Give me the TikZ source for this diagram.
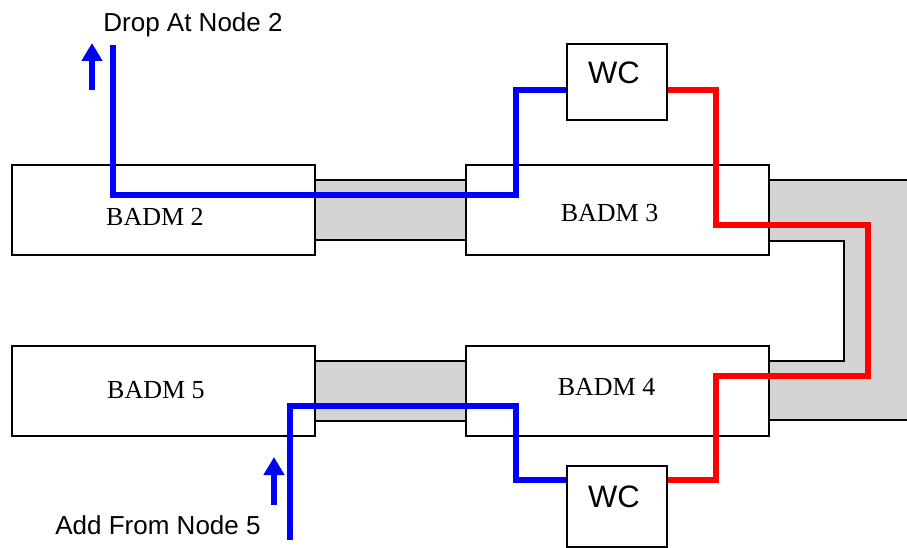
\documentclass[tikz,border=0pt]{standalone}
\usepackage{fontspec}
\setmainfont{Liberation Serif}
\newfontfamily\sansfam{Liberation Sans}
\usetikzlibrary{arrows.meta}
\begin{document}
\begin{tikzpicture}[x=1pt,y=1pt]
\tikzstyle{every node}+=[inner sep=0pt]
\tikzstyle{badm}=[draw=black,line width=2pt,fill=white,minimum width=303pt,minimum height=90pt]
\tikzstyle{wcbox}=[draw=black,line width=2pt,fill=white,minimum width=100pt,minimum height=76pt]
\tikzstyle{badmtxt}=[font=\fontsize{26}{30}\selectfont]
\tikzstyle{wctxt}=[font=\sansfam\fontsize{31}{36}\selectfont]
\tikzstyle{note}=[font=\sansfam\fontsize{26}{30}\selectfont,anchor=base]
\tikzstyle{link}=[draw=black,line width=2pt,fill=black!17]
\tikzstyle{bluepath}=[blue,line width=5.5pt]
\tikzstyle{redpath}=[red,line width=5.5pt]
\tikzstyle{flow}=[blue,line width=5.5pt,-{Triangle[width=20pt,length=18pt]}]
\useasboundingbox (0,0) rectangle (907,-548);
% fibre links
\draw [link] (315,-180) rectangle (466,-240);
\draw [link] (315,-361) rectangle (466,-421);
\fill [black!17] (768,-180) -- (915,-180) -- (915,-420) -- (768,-420) -- (768,-361)
  -- (844,-361) -- (844,-241) -- (768,-241) -- cycle;
\draw [black,line width=2pt] (768,-180) -- (915,-180);
\draw [black,line width=2pt] (768,-420) -- (915,-420);
\draw [black,line width=2pt] (768,-241) -- (844,-241) -- (844,-361) -- (768,-361);
% nodes
\node [badm] (b2) at (163.5,-210) {};
\node [badm] (b3) at (617,-210) {};
\node [badm] (b5) at (163.5,-391) {};
\node [badm] (b4) at (617,-391) {};
\node [wcbox] (wc3) at (617,-82) {};
\node [wcbox,minimum height=81pt] (wc4) at (617,-506.5) {};
\node [badmtxt] at ([shift={(-8.5,-7)}]b2.center) {BADM 2};
\node [badmtxt] at ([shift={(-7.5,-3.5)}]b3.center) {BADM 3};
\node [badmtxt] at ([shift={(-7.5,1)}]b5.center) {BADM 5};
\node [badmtxt] at ([shift={(-10.5,4)}]b4.center) {BADM 4};
\node [wctxt] at ([shift={(-3,9)}]wc3.center) {WC};
\node [wctxt] at ([shift={(-3,9.5)}]wc4.center) {WC};
% labels
\node [note] (droplbl) at (193,-32) {Drop At Node 2};
\node [note] (addlbl) at (158,-534) {Add From Node 5};
\coordinate (drop) at (113,-45);
\coordinate (add) at (290,-540);
% lightpaths
\draw [bluepath] (drop) |- (516,-195) |- ([yshift=-8pt]wc3.west);
\draw [redpath] ([yshift=-8pt]wc3.east) -| (716,-225) -- (868,-225) -- (868,-376)
  -- (716,-376) |- ([yshift=26.5pt]wc4.east);
\draw [bluepath] ([yshift=26.5pt]wc4.west) -| (516,-406) -| (add);
% direction arrows
\draw [flow] (92,-90) -- (92,-43);
\draw [flow] (274,-505) -- (274,-457);
\end{tikzpicture}
\end{document}
